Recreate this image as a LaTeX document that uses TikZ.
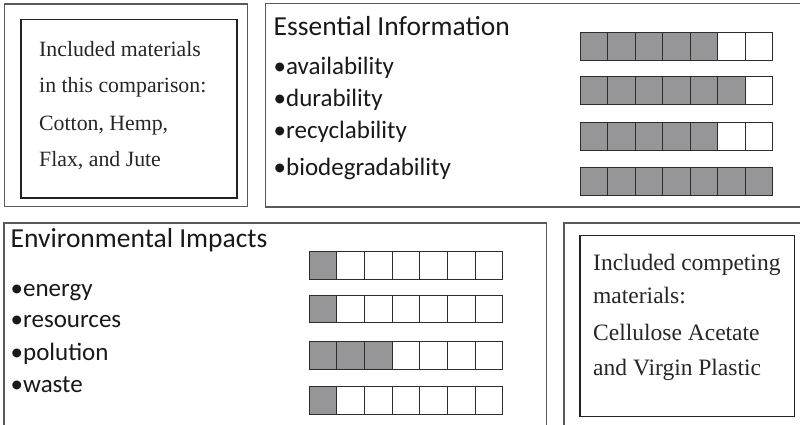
\documentclass[tikz,border=0pt]{standalone}
\usepackage{fontspec}
\setmainfont{Liberation Serif}
\newfontfamily\calib{Carlito}
\definecolor{barfill}{RGB}{150,150,153}
\definecolor{outerline}{RGB}{90,90,90}
\definecolor{innerline}{RGB}{35,35,35}
\definecolor{sqline}{RGB}{45,45,45}
\tikzset{
  outerbox/.style={draw=outerline, line width=1.1pt},
  innerbox/.style={draw=innerline, line width=1.6pt},
  sertext/.style={anchor=base west, inner sep=0pt, font=\fontsize{21.8}{24}\selectfont, text=black!85},
  sertextb/.style={anchor=base west, inner sep=0pt, font=\fontsize{23.5}{25}\selectfont, text=black!85},
  titletext/.style={anchor=base west, inner sep=0pt, font=\calib\fontsize{27.5}{30}\selectfont, text=black!90},
  bullettext/.style={anchor=base west, inner sep=0pt, font=\calib\fontsize{25}{28}\selectfont, text=black!90},
  fullsq/.style={draw=sqline, line width=0.9pt, fill=barfill},
  emptysq/.style={draw=sqline, line width=0.9pt, fill=white}
}
\newcommand{\ratingbar}[5]{% name, x, y, size, filled
  \foreach \k in {1,...,7}{
    \pgfmathsetmacro{\xa}{#2+(\k-1)*#4}
    \pgfmathsetmacro{\xb}{#2+\k*#4}
    \ifnum\k>#5\relax
      \path[emptysq] (\xa,#3) rectangle (\xb,#3+#4);
    \else
      \path[fullsq] (\xa,#3) rectangle (\xb,#3+#4);
    \fi
  }
  \coordinate (#1) at (#2,#3);
}
\begin{document}
\begin{tikzpicture}[x=1pt,y=-1pt]
\useasboundingbox (0,0) rectangle (800,425);
\clip (0,0) rectangle (800,425);
\fill[white] (0,0) rectangle (800,425);
% box 1
\draw[outerbox] (4.5,4) rectangle (247.5,206.5);
\draw[innerbox] (20.7,19.5) rectangle (236.7,198);
\node[sertext] (m1) at (39,56.5) {Included materials};
\node[sertext] (m2) at (39,93) {in this comparison:};
\node[sertext] (m3) at (39,131) {Cotton, Hemp,};
\node[sertext] (m4) at (39,166.5) {Flax, and Jute};
% box 2
\draw[outerbox] (810,3.5) -- (265.3,3.5) -- (265.3,207) -- (810,207);
\node[titletext] (ei) at (273.5,36) {Essential Information};
\node[bullettext] (b1) at (273.5,75) {•availability};
\node[bullettext] (b2) at (273.5,107) {•durability};
\node[bullettext] (b3) at (273.5,139) {•recyclability};
\node[bullettext] (b4) at (273.5,175) {•biodegradability};
\ratingbar{r1}{580}{32.8}{27.53}{5}
\ratingbar{r2}{580}{76.8}{27.53}{6}
\ratingbar{r3}{580}{122.8}{27.53}{5}
\ratingbar{r4}{580}{167.8}{27.53}{7}
% box 3
\draw[outerbox] (4,430) -- (4,223) -- (546.7,223) -- (546.7,430);
\node[titletext] (env) at (10.5,247) {Environmental Impacts};
\node[bullettext] (c1) at (10.5,296.7) {•energy};
\node[bullettext] (c2) at (10.5,327) {•resources};
\node[bullettext] (c3) at (10.5,360.7) {•polution};
\node[bullettext] (c4) at (10.5,392) {•waste};
\ratingbar{s1}{309.3}{251.7}{27.63}{1}
\ratingbar{s2}{309.3}{295.2}{27.63}{1}
\ratingbar{s3}{309.3}{341.8}{27.63}{3}
\ratingbar{s4}{309.3}{386.6}{27.63}{1}
% box 4
\draw[outerbox] (564,430) -- (564,223) -- (810,223);
\draw[innerbox] (579.8,235.5) rectangle (794.5,416.5);
\node[sertextb] (n1) at (593,270) {Included competing};
\node[sertextb] (n2) at (593,303) {materials:};
\node[sertextb] (n3) at (593,340) {Cellulose Acetate};
\node[sertextb] (n4) at (593,375) {and Virgin Plastic};
\end{tikzpicture}
\end{document}
